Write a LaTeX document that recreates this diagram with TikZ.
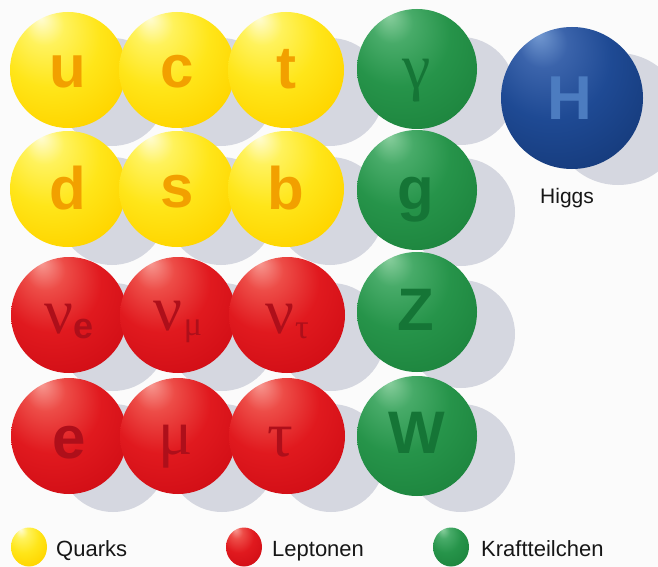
\documentclass[tikz,border=0pt]{standalone}
\usepackage{fontspec}
\setmainfont{Liberation Sans}
\newfontfamily\greekfont{Liberation Serif}

% palette
\definecolor{bgcol}{HTML}{FBFBFB}
\definecolor{shadowcol}{HTML}{D5D7E0}
\definecolor{yLet}{HTML}{F2A000}
\definecolor{rLet}{HTML}{AE0F1A}
\definecolor{gLet}{HTML}{157536}
\definecolor{bLet}{HTML}{4C7CC0}
\definecolor{legendtext}{HTML}{161616}

% sphere shadings, lit from the upper left
\pgfdeclareradialshading{yellowsph}{\pgfpoint{-10bp}{20bp}}{%
  rgb(0bp)=(1,0.99,0.84); rgb(8bp)=(1,0.95,0.36); rgb(20bp)=(1,0.90,0.10);
  rgb(32bp)=(1,0.84,0); rgb(42bp)=(1,0.75,0); rgb(47bp)=(0.97,0.65,0); rgb(50bp)=(0.93,0.58,0)}
\pgfdeclareradialshading{redsph}{\pgfpoint{-10bp}{20bp}}{%
  rgb(0bp)=(0.97,0.60,0.57); rgb(8bp)=(0.93,0.30,0.28); rgb(20bp)=(0.88,0.10,0.12);
  rgb(32bp)=(0.83,0.06,0.09); rgb(42bp)=(0.75,0.05,0.08); rgb(47bp)=(0.66,0.04,0.07); rgb(50bp)=(0.57,0.03,0.06)}
\pgfdeclareradialshading{greensph}{\pgfpoint{-10bp}{20bp}}{%
  rgb(0bp)=(0.54,0.81,0.62); rgb(8bp)=(0.28,0.67,0.41); rgb(20bp)=(0.15,0.58,0.29);
  rgb(32bp)=(0.12,0.53,0.25); rgb(42bp)=(0.09,0.46,0.21); rgb(47bp)=(0.07,0.40,0.18); rgb(50bp)=(0.05,0.34,0.14)}
\pgfdeclareradialshading{bluesph}{\pgfpoint{-10bp}{20bp}}{%
  rgb(0bp)=(0.45,0.60,0.82); rgb(8bp)=(0.23,0.39,0.67); rgb(20bp)=(0.12,0.29,0.58);
  rgb(32bp)=(0.09,0.24,0.50); rgb(42bp)=(0.06,0.19,0.41); rgb(47bp)=(0.05,0.15,0.34); rgb(50bp)=(0.03,0.11,0.27)}

% #1,#2 centre; #3,#4 radii; #5 shading
\newcommand\ballshape[5]{%
  \begin{scope}
    \clip (#1,#2) ellipse [x radius=#3pt, y radius=#4pt];
    \shade[shading=#5] ({#1-0.05*#3},{#2-0.05*#4}) ellipse [x radius={1.07*#3pt}, y radius={1.07*#4pt}];
  \end{scope}}

\tikzset{
  symb/.style={inner sep=0pt, anchor=center},
  legendlabel/.style={anchor=base west, inner sep=0pt, text=legendtext, font=\fontsize{22}{22}\selectfont},
}

\newcommand\lat[1]{{\fontsize{60}{60}\selectfont\bfseries #1}}
\newcommand\grk[1]{{\greekfont\fontsize{64}{64}\selectfont #1}}
\newcommand\grksub[1]{\raisebox{-5pt}{\greekfont\fontsize{34}{34}\selectfont #1}}
\newcommand\latsub[1]{\raisebox{-5pt}{\fontsize{36}{36}\selectfont\bfseries #1}}

\begin{document}
\begin{tikzpicture}[x=1pt,y=-1pt]
\useasboundingbox (0,0) rectangle (658,567);
\fill[bgcol] (0,0) rectangle (658,567);

% cast shadows
\foreach \cx/\cy in {68/70,177/70,286/70,68/189,177/189,286/189,
                     69/315,178/315,287/315,69/436,178/436,287/436,
                     417/69,417/190,417/312,417/436}
  {\fill[shadowcol] ({\cx+44},{\cy+22}) circle (54pt);}
\fill[shadowcol] (618,119) circle (66pt);

% quarks
\foreach \cx/\cy in {68/70,177/70,286/70,68/189,177/189,286/189}
  {\ballshape{\cx}{\cy}{58}{58}{yellowsph}}
% leptons
\foreach \cx/\cy in {69/315,178/315,287/315,69/436,178/436,287/436}
  {\ballshape{\cx}{\cy}{58}{58}{redsph}}
% force carriers
\foreach \cy in {69,190,312,436}
  {\ballshape{417}{\cy}{60}{60}{greensph}}
% Higgs
\ballshape{572}{98}{71}{71}{bluesph}

% symbols on the quarks
\node[symb, text=yLet] (qu) at (68,72) {\lat{u}};
\node[symb, text=yLet] (qc) at (177,72) {\lat{c}};
\node[symb, text=yLet] (qt) at (286,69) {\lat{t}};
\node[symb, text=yLet] (qd) at (68,188) {\lat{d}};
\node[symb, text=yLet] (qs) at (177,192) {\lat{s}};
\node[symb, text=yLet] (qb) at (286,188) {\lat{b}};

% symbols on the leptons
\node[symb, text=rLet] (lne) at (69,321) {\grk{ν}\kern1pt\latsub{e}};
\node[symb, text=rLet] (lnm) at (178,322) {\grk{ν}\kern1pt\grksub{μ}};
\node[symb, text=rLet] (lnt) at (287,321) {\grk{ν}\kern1pt\grksub{τ}};
\node[symb, text=rLet] (le) at (69,443) {\lat{e}};
\node[symb, text=rLet] (lm) at (176,447) {\grk{μ}};
\node[symb, text=rLet] (lt) at (280,442) {\grk{τ}};

% symbols on the force carriers
\node[symb, text=gLet] (fgam) at (417,81) {\grk{γ}};
\node[symb, text=gLet] (fg) at (416,200) {\lat{g}};
\node[symb, text=gLet] (fz) at (416,310) {\lat{Z}};
\node[symb, text=gLet] (fw) at (417,433) {\lat{W}};

% Higgs
\node[symb, text=bLet] (hh) at (570,98) {{\fontsize{62}{62}\selectfont\bfseries H}};
\node[legendlabel, font=\fontsize{21}{21}\selectfont] (higgslabel) at (540,203) {Higgs};

% legend
\ballshape{29}{547}{18}{19.5}{yellowsph}
\ballshape{244}{547}{18}{19.5}{redsph}
\ballshape{451}{547}{18}{19.5}{greensph}
\node[legendlabel] (lquarks) at (56,556) {Quarks};
\node[legendlabel] (lleptons) at (272,556) {Leptonen};
\node[legendlabel] (lforce) at (481,556) {Kraftteilchen};
\end{tikzpicture}
\end{document}
